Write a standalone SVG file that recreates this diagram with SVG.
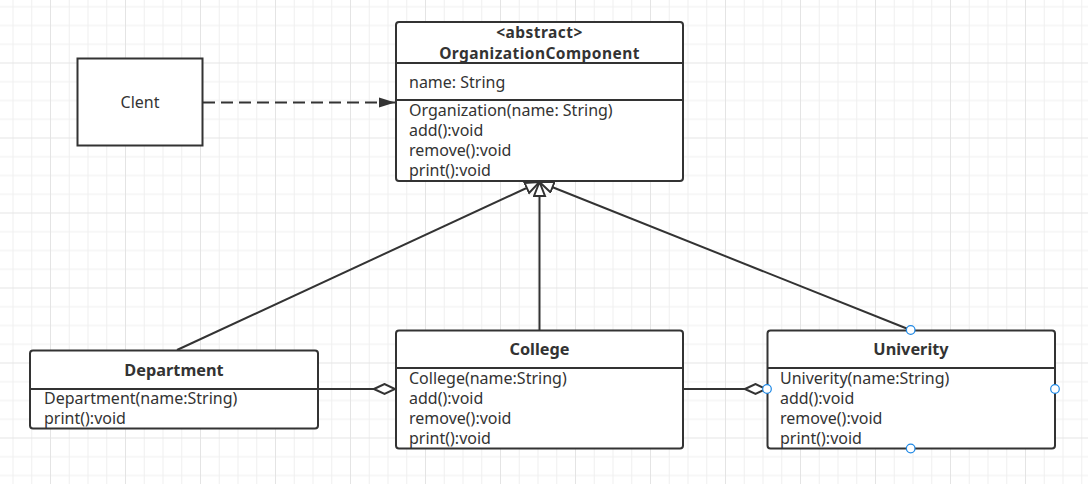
<svg xmlns="http://www.w3.org/2000/svg" width="1088" height="484" viewBox="0 0 1088 484">
<defs>
<pattern id="grid" patternUnits="userSpaceOnUse" x="50" y="62.5" width="75" height="75">
<rect x="0" y="0" width="75" height="75" fill="#ffffff"/>
<g fill="#f0f0f0">
<rect x="18.75" y="0" width="1" height="75"/><rect x="37.5" y="0" width="1" height="75"/><rect x="56.25" y="0" width="1" height="75"/>
<rect x="0" y="18.75" width="75" height="1"/><rect x="0" y="37.5" width="75" height="1"/><rect x="0" y="56.25" width="75" height="1"/>
</g>
<g fill="#e4e4e4">
<rect x="0" y="0" width="1" height="75"/><rect x="0" y="0" width="75" height="1"/>
</g>
</pattern>
<marker id="inh" markerUnits="userSpaceOnUse" markerWidth="20" markerHeight="16" refX="15" refY="6.5" orient="auto">
<path d="M1,1 L15,6.5 L1,12 Z" fill="#ffffff" stroke="#333333" stroke-width="2"/>
</marker>
<marker id="dep" markerUnits="userSpaceOnUse" markerWidth="18" markerHeight="14" refX="16" refY="6" orient="auto">
<path d="M0,1 L16,6 L0,11 Z" fill="#333333"/>
</marker>
<marker id="agg" markerUnits="userSpaceOnUse" markerWidth="26" markerHeight="14" refX="22" refY="6" orient="auto">
<path d="M1,6 L11.5,1 L22,6 L11.5,11 Z" fill="#ffffff" stroke="#333333" stroke-width="2"/>
</marker>
<style>
.box{fill:#ffffff;stroke:#333333;stroke-width:2}
.sep{stroke:#333333;stroke-width:2}
.t{font-family:"Noto Sans","Liberation Sans",sans-serif;font-size:16px;fill:#333333}
.b{font-family:"Noto Sans","Liberation Sans",sans-serif;font-size:16.3px;font-weight:bold;fill:#333333;text-anchor:middle}
.bs{font-size:15.5px;letter-spacing:0.45px}
.c{font-family:"Noto Sans","Liberation Sans",sans-serif;font-size:16px;fill:#333333;text-anchor:middle}
.ln{fill:none;stroke:#333333;stroke-width:2}
.h{fill:#ffffff;stroke:#1e88e5;stroke-width:1.2}
</style>
</defs>
<rect x="0" y="0" width="1088" height="484" fill="url(#grid)"/>

<g id="connectors">
<line class="ln" x1="203" y1="102.5" x2="395" y2="102.5" stroke-dasharray="12 6" marker-end="url(#dep)"/>
<line class="ln" x1="177" y1="350" x2="539.5" y2="182" marker-end="url(#inh)"/>
<line class="ln" x1="539.5" y1="330" x2="539.5" y2="182" marker-end="url(#inh)"/>
<line class="ln" x1="910.5" y1="330" x2="539.5" y2="182" marker-end="url(#inh)"/>
<line class="ln" x1="318" y1="389" x2="395" y2="389" marker-end="url(#agg)"/>
<line class="ln" x1="683" y1="389" x2="766" y2="389" marker-end="url(#agg)"/>
</g>

<g id="client">
<rect class="box" x="77.5" y="58.5" width="125" height="87"/>
<text class="c" x="140" y="107.5">Clent</text>
</g>

<g id="organizationComponent">
<rect class="box" x="396" y="22" width="287" height="159" rx="3"/>
<line class="sep" x1="396" y1="63" x2="683" y2="63"/>
<line class="sep" x1="396" y1="100" x2="683" y2="100"/>
<text class="b bs" x="539.5" y="37.5">&lt;abstract&gt;</text>
<text class="b bs" x="539.5" y="59">OrganizationComponent</text>
<text class="t" x="409" y="87.5">name: String</text>
<text class="t" x="409" y="115.5">Organization(name: String)</text>
<text class="t" x="409" y="135.5">add():void</text>
<text class="t" x="409" y="155.5">remove():void</text>
<text class="t" x="409" y="175.5">print():void</text>
</g>

<g id="department">
<rect class="box" x="30" y="350.5" width="288" height="78" rx="3"/>
<line class="sep" x1="30" y1="389" x2="318" y2="389"/>
<text class="b" x="174" y="375.5">Department</text>
<text class="t" x="44" y="404">Department(name:String)</text>
<text class="t" x="44" y="424">print():void</text>
</g>

<g id="college">
<rect class="box" x="396" y="330.5" width="287" height="118" rx="3"/>
<line class="sep" x1="396" y1="368" x2="683" y2="368"/>
<text class="b" x="539.5" y="355">College</text>
<text class="t" x="409" y="384">College(name:String)</text>
<text class="t" x="409" y="404">add():void</text>
<text class="t" x="409" y="424">remove():void</text>
<text class="t" x="409" y="444">print():void</text>
</g>

<g id="univerity">
<rect class="box" x="767.5" y="330.5" width="287.5" height="118" rx="3"/>
<line class="sep" x1="767.5" y1="368" x2="1055" y2="368"/>
<text class="b" x="911" y="355">Univerity</text>
<text class="t" x="780" y="384">Univerity(name:String)</text>
<text class="t" x="780" y="404">add():void</text>
<text class="t" x="780" y="424">remove():void</text>
<text class="t" x="780" y="444">print():void</text>
<circle class="h" cx="910.7" cy="330" r="4.3"/>
<circle class="h" cx="767" cy="389" r="4.3"/>
<circle class="h" cx="1055" cy="389" r="4.3"/>
<circle class="h" cx="910.7" cy="448.5" r="4.3"/>
</g>
</svg>
